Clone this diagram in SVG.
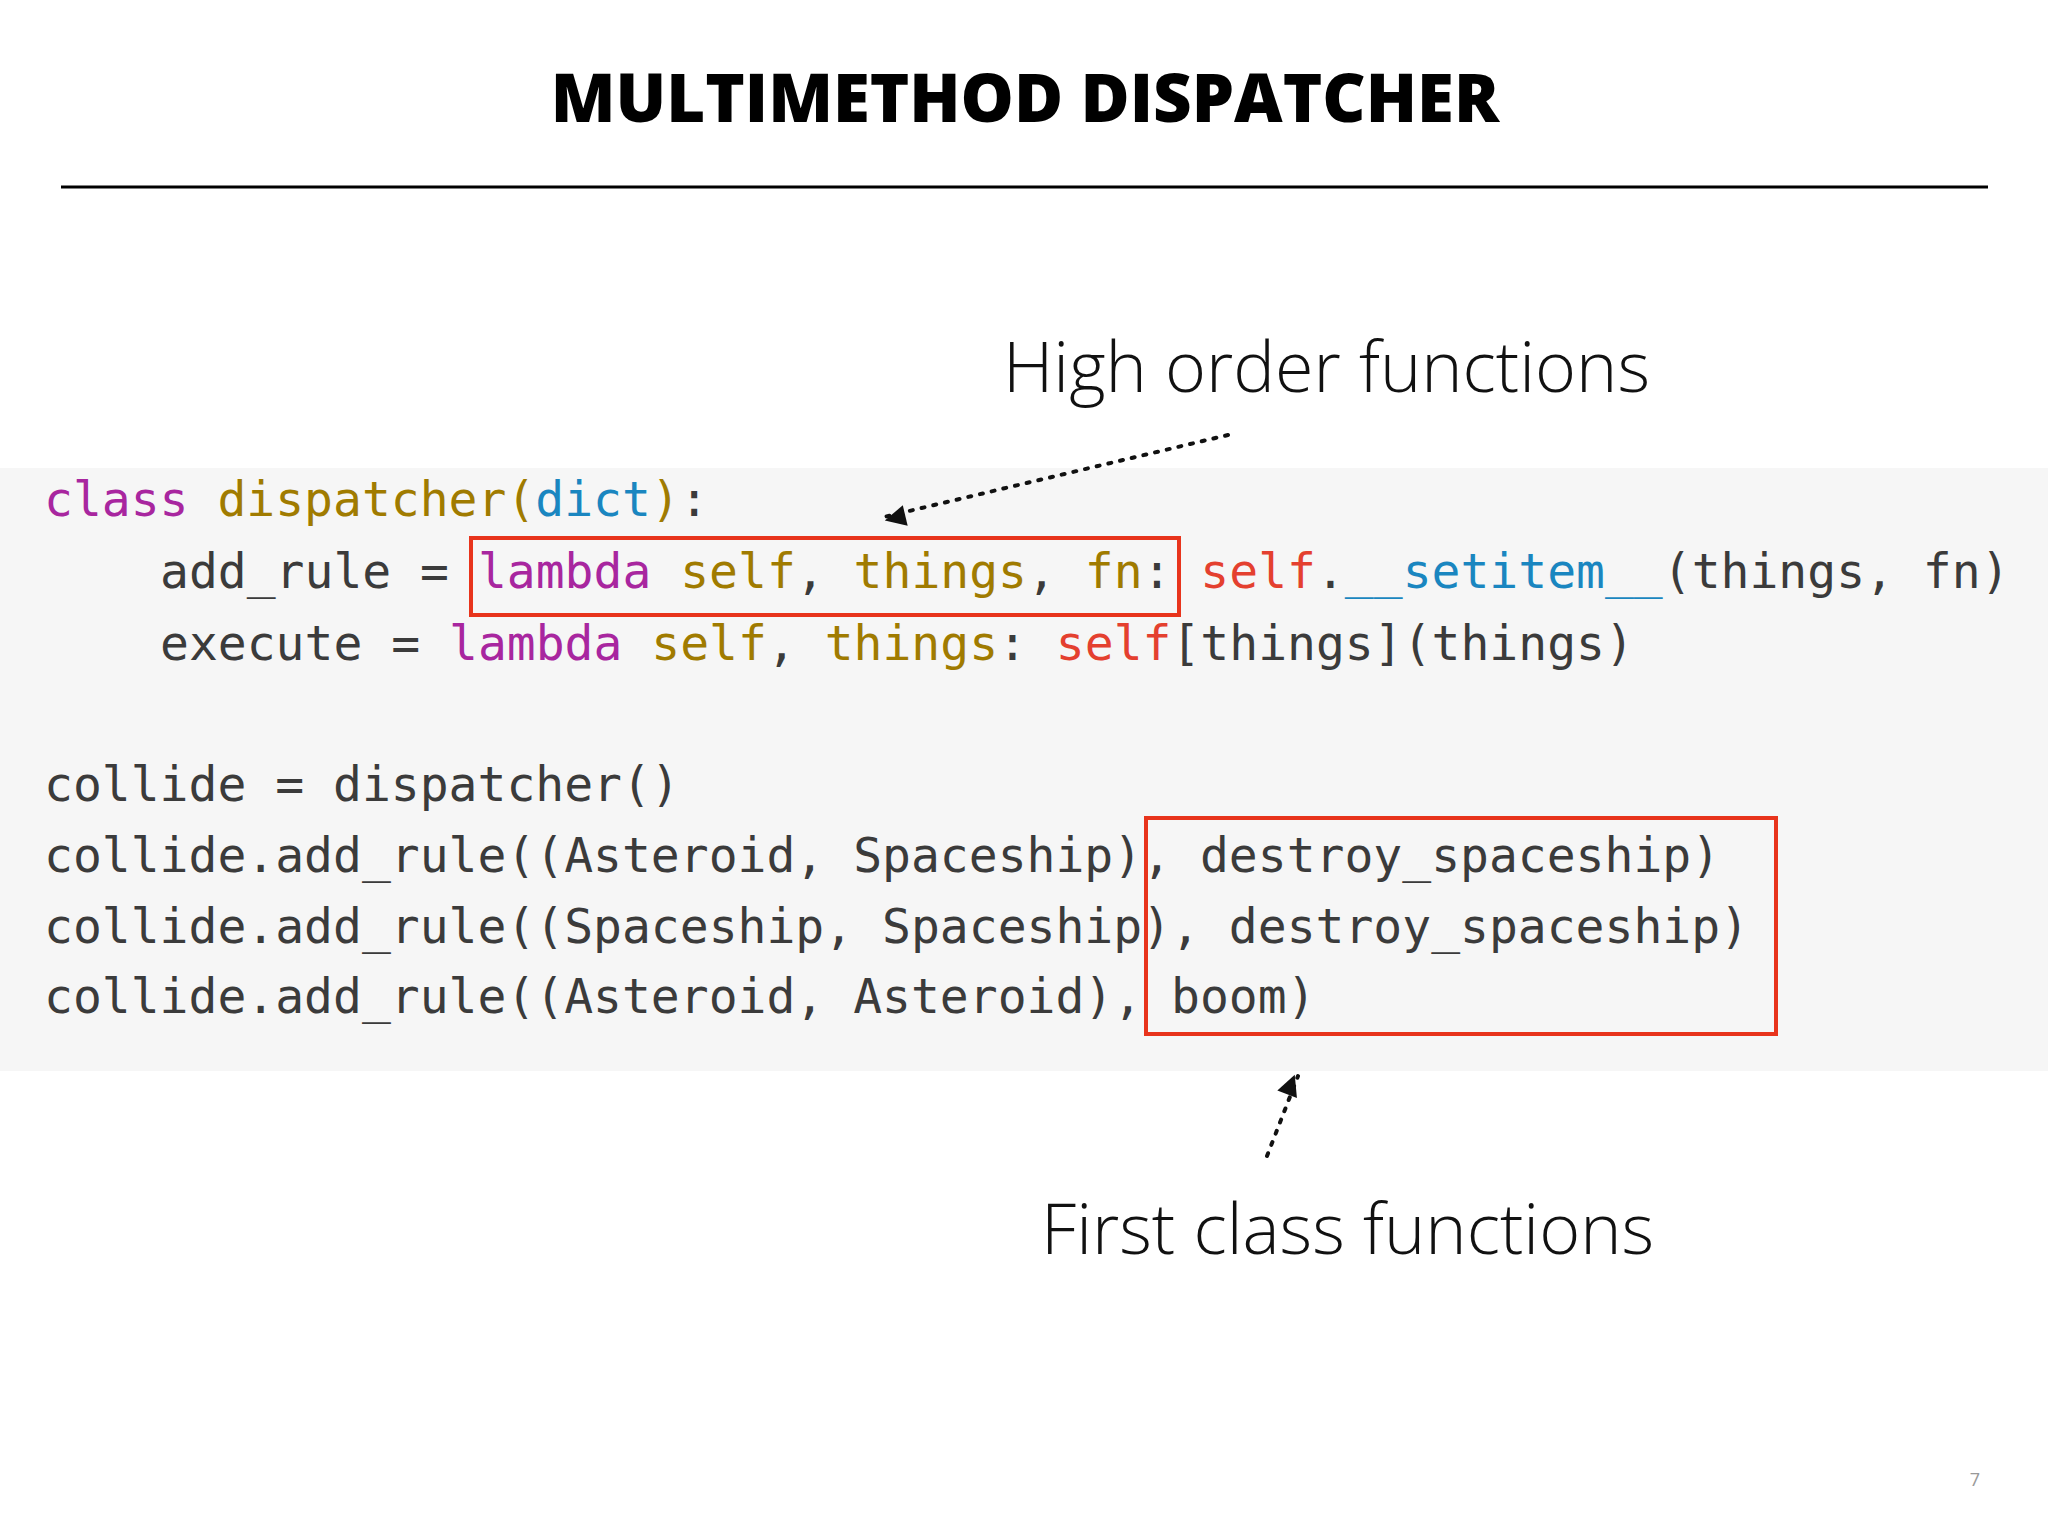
<svg xmlns="http://www.w3.org/2000/svg" width="2048" height="1536" viewBox="0 0 2048 1536">
<style>
.code{font-family:"DejaVu Sans Mono",monospace;font-size:48px;fill:#3b3b3b;white-space:pre}
.k{fill:#a8269f}.g{fill:#a07b00}.b{fill:#1a86c0}.r{fill:#e4402f}
.lbl{font-family:"Open Sans",sans-serif;font-weight:300;font-size:70px;fill:#111}
.box{fill:none;stroke:#e8341c;stroke-width:4}
.dot{stroke:#111;stroke-width:4;stroke-dasharray:3 9;fill:none;stroke-linecap:round}
</style>
<defs><marker id="ah" viewBox="0 0 10 10" refX="9" refY="5" markerWidth="7" markerHeight="7" orient="auto" markerUnits="userSpaceOnUse" style="overflow:visible"><path d="M0,0 L10,5 L0,10 z" fill="#111" transform="scale(3) translate(-7,-5)"/></marker></defs>
<rect width="2048" height="1536" fill="#fff"/>
<text x="1025" y="122" text-anchor="middle" font-family="Open Sans,sans-serif" font-weight="800" font-size="67" fill="#000">MULTIMETHOD DISPATCHER</text>
<line x1="61" y1="187" x2="1988" y2="187" stroke="#000" stroke-width="3"/>
<rect x="0" y="468" width="2048" height="603" fill="#f6f6f6"/>
<g id="code" class="code" xml:space="preserve">
<text x="44" y="516"><tspan class="k">class</tspan> <tspan class="g">dispatcher(</tspan><tspan class="b">dict</tspan><tspan class="g">)</tspan>:</text>
<text x="160" y="588">add_rule = <tspan class="k">lambda</tspan> <tspan class="g">self</tspan>, <tspan class="g">things</tspan>, <tspan class="g">fn</tspan>: <tspan class="r">self</tspan>.<tspan class="b">__setitem__</tspan>(things, fn)</text>
<text x="160" y="660">execute = <tspan class="k">lambda</tspan> <tspan class="g">self</tspan>, <tspan class="g">things</tspan>: <tspan class="r">self</tspan>[things](things)</text>
<text x="44" y="801">collide = dispatcher()</text>
<text x="44" y="872">collide.add_rule((Asteroid, Spaceship), destroy_spaceship)</text>
<text x="44" y="943">collide.add_rule((Spaceship, Spaceship), destroy_spaceship)</text>
<text x="44" y="1013">collide.add_rule((Asteroid, Asteroid), boom)</text>
</g>
<g id="box1"><rect class="box" x="471" y="538" width="708" height="77"/></g>
<g id="box2"><rect class="box" x="1146" y="818" width="630" height="216"/></g>
<g id="label1"><text class="lbl" x="1003" y="392">High order functions</text></g>
<g id="label2"><text class="lbl" x="1041" y="1254">First class functions</text></g>
<g id="connectors">
<line class="dot" x1="1228" y1="435" x2="884" y2="517" marker-end="url(#ah)"/>
<line class="dot" x1="1267" y1="1156" x2="1298" y2="1076" marker-end="url(#ah)"/>
</g>
<text x="1975" y="1486" font-family="Open Sans,sans-serif" font-size="18" fill="#999" text-anchor="middle">7</text>
</svg>
